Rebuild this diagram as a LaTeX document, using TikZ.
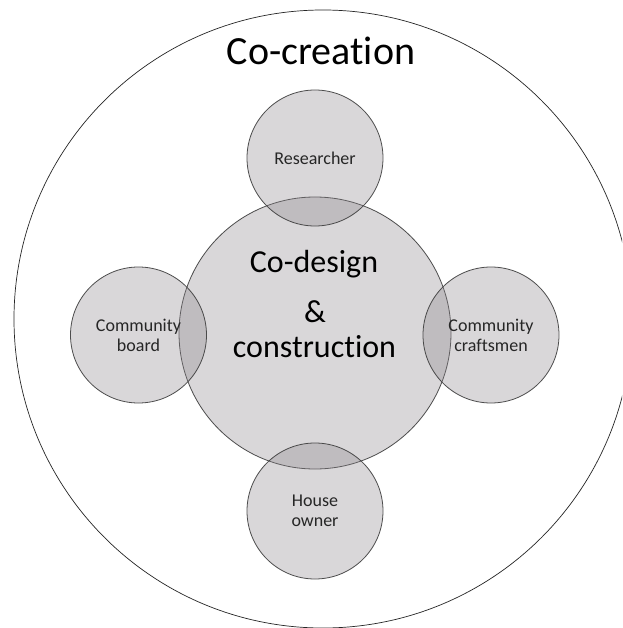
\documentclass[tikz,border=0pt]{standalone}
\usepackage{fontspec}
\setmainfont{Carlito}[Ligatures={NoCommon}]
\definecolor{circfill}{RGB}{140,134,140}
\definecolor{circline}{RGB}{60,60,60}
\definecolor{smalltext}{RGB}{38,38,38}
\tikzset{
  bubble/.style={circle, inner sep=0pt, draw=circline, line width=0.8pt,
    fill=circfill, fill opacity=0.33, draw opacity=0.9},
  smalllabel/.style={align=center, text=smalltext, font=\fontsize{18}{20}\selectfont, inner sep=0pt},
  biglabel/.style={anchor=base, text=black, font=\fontsize{32}{36}\selectfont, inner sep=0pt}
}
\begin{document}
\begin{tikzpicture}[x=1pt,y=-1pt]
\useasboundingbox (0,0) rectangle (622,628);
\clip (0,0) rectangle (622,628);
\fill[white] (0,0) rectangle (622,628);
% outer circle
\node[circle, inner sep=0pt, minimum size=618pt, draw=black!85, line width=0.7pt] (outer) at (323,319) {};
% central circle
\node[bubble, minimum size=272pt] (center) at (315,333) {};
% satellites
\node[bubble, minimum size=136pt] (researcher) at (315,158) {};
\node[bubble, minimum size=136pt] (board) at (138.5,335) {};
\node[bubble, minimum size=136pt] (craftsmen) at (491,335) {};
\node[bubble, minimum size=136pt] (owner) at (315,511) {};
% labels
\node[anchor=base, font=\fontsize{40}{44}\selectfont, inner sep=0pt] (cocreation) at (321,65) {Co-creation};
\node[biglabel] (codesign) at (314,272) {Co-design};
\node[biglabel] (amp) at (315,322) {\&};
\node[biglabel] (construction) at (314.5,357) {construction};
\node[smalllabel] (researcher-label) at (researcher.center) {Researcher};
\node[smalllabel] (board-label) at (board.center) {Community\\board};
\node[smalllabel] (craftsmen-label) at (craftsmen.center) {Community\\craftsmen};
\node[smalllabel] (owner-label) at (owner.center) {House\\owner};
\end{tikzpicture}
\end{document}
